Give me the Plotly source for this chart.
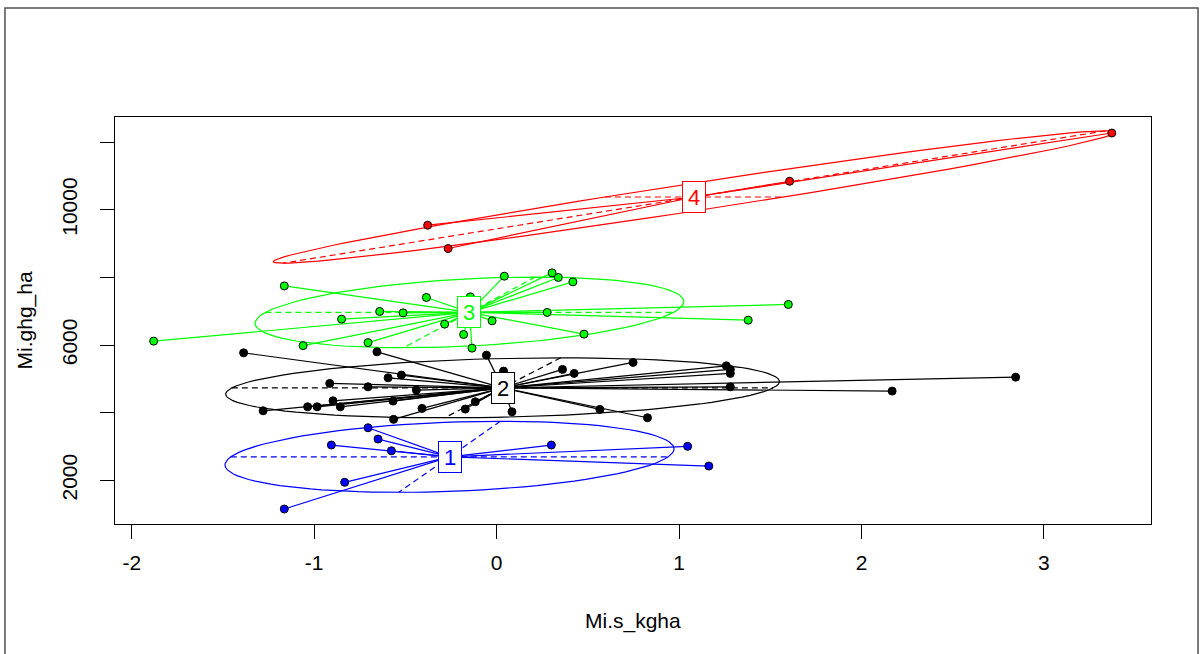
import numpy as np
import plotly.graph_objects as go

# ---------------- data ----------------
group_labels = ["1", "2", "3", "4"]
group_colors = ["#0000FF", "#000000", "#00FF00", "#FF0000"]

g1_x = [-0.705, -0.650, -0.906, -0.577, -0.833, -1.164, 0.300, 1.047, 1.163]
g1_y = [3554, 3220, 3043, 2874, 1941, 1152, 3043, 3004, 2422]

g2_x = [-1.387, -0.656, -0.056, 0.038, -0.915, -0.705, -0.595, -0.522, -0.440,
        -1.280, -1.036, -0.984, -0.897, -0.857, -0.568, -0.409, -0.565, -0.172,
        -0.117, 0.084, 0.361, 0.425, 0.748, 1.259, 1.281, 1.281, 1.281, 2.845,
        2.168, 0.566, 0.827]
g2_y = [5769, 5799, 5701, 5229, 4865, 4765, 5031, 5111, 4667,
        4056, 4174, 4174, 4351, 4174, 4343, 4127, 3802, 4106,
        4322, 4026, 5279, 5161, 5486, 5385, 5279, 5161, 4765, 5051,
        4638, 4097, 3849]

g3_x = [-1.880, -1.164, -1.061, -0.850, -0.705, -0.641, -0.513, -0.385, -0.144,
        -0.285, -0.181, -0.135, -0.025, 0.042, 0.304, 0.338, 0.418, 0.277,
        0.479, 1.599, 1.379]
g3_y = [6115, 7748, 5982, 6765, 6071, 6992, 6951, 7406, 7424,
        6617, 6313, 5908, 6715, 8035, 8133, 7997, 7867, 6963,
        6322, 7199, 6735]

g4_x = [3.372, 1.606, -0.378, -0.266]
g4_y = [12268, 10841, 9542, 8853]

x_ticks = [-2, -1, 0, 1, 2, 3]
y_ticks = [2000, 4000, 6000, 8000, 10000, 12000]
y_tick_text = ["2000", "", "6000", "", "10000", ""]

x_title = "Mi.s_kgha"
y_title = "Mi.ghg_ha"

groups_x = [g1_x, g2_x, g3_x, g4_x]
groups_y = [g1_y, g2_y, g3_y, g4_y]


def ade4_ellipse(xs, ys, coeff=1.5, lig=100):
    xs = np.asarray(xs, float)
    ys = np.asarray(ys, float)
    mx, my = xs.mean(), ys.mean()
    vx = np.mean((xs - mx) ** 2)
    vy = np.mean((ys - my) ** 2)
    cxy = np.mean((xs - mx) * (ys - my))
    delta = np.sqrt((vx - vy) ** 2 + 4 * cxy * cxy)
    l1 = (vx + vy + delta) / 2
    l2 = vx + vy - l1
    l1 = np.sqrt(max(l1, 0))
    l2 = np.sqrt(max(l2, 0))
    if abs(cxy) < 1e-10:
        a0, b0 = (1.0, 0.0) if vx > vy else (0.0, 1.0)
    else:
        a0 = 1.0
        b0 = (l1 * l1 - vx) / cxy
        nrm = np.sqrt(a0 * a0 + b0 * b0)
        a0, b0 = a0 / nrm, b0 / nrm
    c11 = coeff * a0 * l1
    c12 = -coeff * b0 * l2
    c21 = coeff * b0 * l1
    c22 = coeff * a0 * l2
    t = np.arange(lig + 1) * 2 * np.pi / lig
    ex = mx + c11 * np.cos(t) + c12 * np.sin(t)
    ey = my + c21 * np.cos(t) + c22 * np.sin(t)
    ax = [mx + c11, mx - c11, None, mx + c12, mx - c12]
    ay = [my + c21, my - c21, None, my + c22, my - c22]
    return mx, my, ex, ey, ax, ay


fig = go.Figure()
centroids = []
for gx, gy, col in zip(groups_x, groups_y, group_colors):
    mx, my, ex, ey, ax, ay = ade4_ellipse(gx, gy)
    centroids.append((mx, my))
    sx, sy = [], []
    for xi, yi in zip(gx, gy):
        sx += [mx, xi, None]
        sy += [my, yi, None]
    fig.add_trace(go.Scatter(x=sx, y=sy, mode="lines",
                             line=dict(color=col, width=1.2), hoverinfo="skip"))
    fig.add_trace(go.Scatter(x=ax, y=ay, mode="lines",
                             line=dict(color=col, width=1.2, dash="6px,4px"),
                             hoverinfo="skip"))
    fig.add_trace(go.Scatter(x=ex, y=ey, mode="lines",
                             line=dict(color=col, width=1.2), hoverinfo="skip"))

for gx, gy, col in zip(groups_x, groups_y, group_colors):
    fig.add_trace(go.Scatter(x=gx, y=gy, mode="markers",
                             marker=dict(color=col, size=8,
                                         line=dict(color="black", width=1))))

for (mx, my), lab, col in zip(centroids, group_labels, group_colors):
    fig.add_annotation(x=mx, y=my, text=lab, showarrow=False,
                       font=dict(family="Arial, Liberation Sans", size=22, color=col),
                       bgcolor="white", bordercolor=col, borderwidth=1,
                       borderpad=0, width=22, height=30)

# axis titles
fig.add_annotation(xref="paper", yref="paper", x=0.5, y=-0.2383, text=x_title,
                   showarrow=False, yanchor="middle",
                   font=dict(family="Arial, Liberation Sans", size=21, color="black"))
fig.add_annotation(xref="paper", yref="paper", x=-0.0869, y=0.5, text=y_title,
                   showarrow=False, textangle=-90, xanchor="center",
                   font=dict(family="Arial, Liberation Sans", size=21, color="black"))

# outer frame
fig.add_shape(type="rect", xref="paper", yref="paper",
              x0=-0.1062, x1=1.0454, y0=-0.40, y1=1.2678,
              line=dict(color="#505050", width=1.5), layer="below")

axis_common = dict(showline=True, mirror=True, linecolor="black", linewidth=1,
                   ticks="outside", ticklen=14, tickwidth=1, tickcolor="black",
                   showgrid=False, zeroline=False,
                   tickfont=dict(family="Arial, Liberation Sans", size=21, color="black"))

fig.update_layout(
    width=1203, height=654, autosize=False,
    margin=dict(l=115, r=52, t=117, b=130),
    plot_bgcolor="white", paper_bgcolor="white",
    showlegend=False,
    xaxis=dict(range=[-2.092, 3.587], tickvals=x_ticks,
               ticktext=[str(v) for v in x_ticks], ticklabelstandoff=6,
               **axis_common),
    yaxis=dict(range=[709, 12741], tickvals=y_ticks, ticktext=y_tick_text,
               tickangle=-90, ticklabelstandoff=15, **axis_common),
)

fig.write_html("out.html",
               config={"displayModeBar": False},
               post_script="document.body.style.margin='0px';document.body.style.overflow='hidden';")
